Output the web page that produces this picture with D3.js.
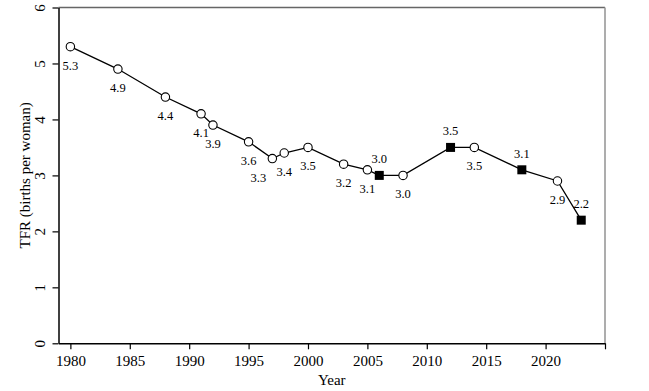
<!DOCTYPE html>
<html>
<head>
<meta charset="utf-8">
<script src="https://cdn.jsdelivr.net/npm/d3@7"></script>
<style>
html,body{margin:0;padding:0;background:#fff;}
svg{display:block;}
text{font-family:"Liberation Serif","Times New Roman",serif;fill:#000;}
</style>
</head>
<body>
<svg id="chart" width="649" height="391"></svg>
<script>
const years  = [1980,1984,1988,1991,1992,1995,1997,1998,2000,2003,2005,2006,2008,2012,2014,2018,2021,2023];
const tfr    = [5.3, 4.9, 4.4, 4.1, 3.9, 3.6, 3.3, 3.4, 3.5, 3.2, 3.1, 3.0, 3.0, 3.5, 3.5, 3.1, 2.9, 2.2];
const shapes = ["circle","circle","circle","circle","circle","circle","circle","circle","circle","circle","circle","square","circle","square","circle","square","circle","square"];
const labelPos = ["below","below","below","below","below","below","belowleft","below","below","below","below","above","below","above","below","above","below","above"];
const xTicks = [1980,1985,1990,1995,2000,2005,2010,2015,2020,2025];
const xTickLabels = ["1980","1985","1990","1995","2000","2005","2010","2015","2020",""];
const yTicks = [0,1,2,3,4,5,6];

const svg = d3.select("#chart");
const L = 58.5, R = 605, T = 7.5, B = 343.3;
const x = d3.scaleLinear().domain([1979, 2025]).range([L, R]);
const y = d3.scaleLinear().domain([0, 6]).range([B, T]);

// box top & right
svg.append("line").attr("x1", L).attr("x2", R).attr("y1", T).attr("y2", T)
  .attr("stroke", "#666").attr("stroke-width", 1.3);
svg.append("line").attr("x1", R).attr("x2", R).attr("y1", T).attr("y2", B)
  .attr("stroke", "#999").attr("stroke-width", 1.6);

// x axis
const xAxis = d3.axisBottom(x).tickValues(xTicks)
  .tickFormat((d, i) => xTickLabels[i]).tickSizeOuter(0).tickSizeInner(6).tickPadding(6);
const gx = svg.append("g").attr("transform", `translate(0,${B})`).call(xAxis);
gx.select(".domain").attr("stroke", "#000").attr("stroke-width", 1.5);
gx.selectAll(".tick line").attr("stroke", "#000").attr("stroke-width", 1.2);
gx.selectAll("text").style("font-size", "15px").attr("font-family", "Liberation Serif");

// y axis
const yAxis = d3.axisLeft(y).tickValues(yTicks).tickFormat(d3.format("d"))
  .tickSizeOuter(0).tickSizeInner(6);
const gy = svg.append("g").attr("transform", `translate(${L},0)`).call(yAxis);
gy.select(".domain").attr("stroke", "#000").attr("stroke-width", 1.5);
gy.selectAll(".tick line").attr("stroke", "#000").attr("stroke-width", 1.2);
gy.selectAll("text")
  .attr("x", 0).attr("dy", null)
  .attr("text-anchor", "middle")
  .attr("transform", "translate(-14,0) rotate(-90)")
  .attr("dy", "0")
  .attr("y", 0)
  .style("font-size", "15px").attr("font-family", "Liberation Serif");

// axis titles
svg.append("text").attr("x", (L + R) / 2 - 0).attr("y", 385)
  .attr("text-anchor", "middle").style("font-size", "15px").text("Year");
svg.append("text").attr("transform", `translate(30,${(T + B) / 2}) rotate(-90)`)
  .attr("text-anchor", "middle").style("font-size", "15px").text("TFR (births per woman)");

const data = years.map((yr, i) => ({yr, v: tfr[i], s: shapes[i], p: labelPos[i]}));

// line
svg.append("path").datum(data)
  .attr("fill", "none").attr("stroke", "#000").attr("stroke-width", 1.3)
  .attr("d", d3.line().x(d => x(d.yr)).y(d => y(d.v)));

// markers
svg.selectAll("circle.pt").data(data.filter(d => d.s === "circle")).enter()
  .append("circle").attr("class", "pt")
  .attr("cx", d => x(d.yr)).attr("cy", d => y(d.v)).attr("r", 4.2)
  .attr("fill", "#fff").attr("stroke", "#000").attr("stroke-width", 1.1);
const sq = 9;
svg.selectAll("rect.pt").data(data.filter(d => d.s === "square")).enter()
  .append("rect").attr("class", "pt")
  .attr("x", d => x(d.yr) - sq / 2).attr("y", d => y(d.v) - sq / 2)
  .attr("width", sq).attr("height", sq).attr("fill", "#000");

// value labels
svg.selectAll("text.val").data(data).enter()
  .append("text").attr("class", "val")
  .attr("text-anchor", "middle").style("font-size", "12.5px")
  .attr("x", d => x(d.yr) + (d.p === "belowleft" ? -14 : 0))
  .attr("y", d => y(d.v) + (d.p === "above" ? -12 : 23))
  .text(d => d3.format(".1f")(d.v));
</script>
</body>
</html>
